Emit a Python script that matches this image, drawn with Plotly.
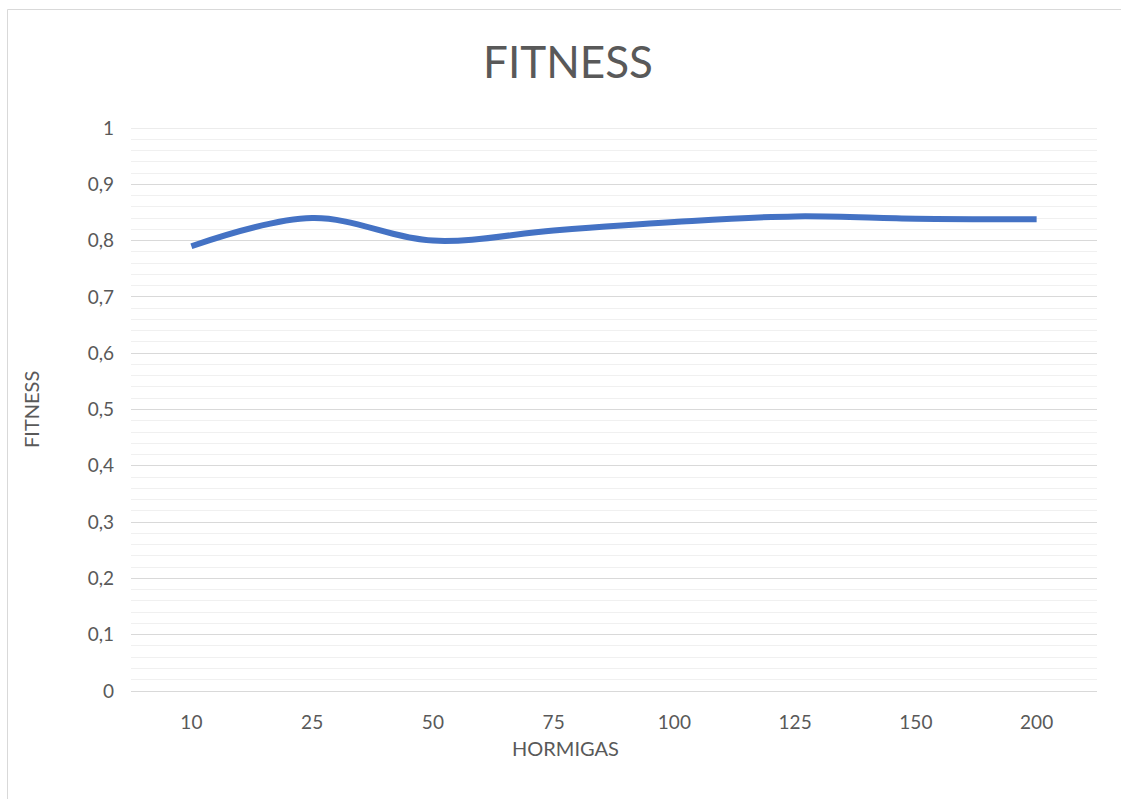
import plotly.graph_objects as go

# Number of ants per run and the resulting fitness
hormigas = ["10", "25", "50", "75", "100", "125", "150", "200"]
fitness = [0.79, 0.84, 0.80, 0.818, 0.833, 0.843, 0.839, 0.838]

TEXT = "#595959"
FONT = "Lato, 'Open Sans', sans-serif"

W, H = 1121, 799
L, R, T, B = 131, 1097, 128, 691

fig = go.Figure()
fig.add_trace(go.Scatter(
    x=hormigas,
    y=fitness,
    mode="lines",
    line=dict(color="#4472C4", width=6, shape="spline", smoothing=1.0),
    hoverinfo="x+y",
    showlegend=False,
))

def px_x(p):
    return (p - L) / (R - L)

def px_y(p):
    return (B - p) / (B - T)

fig.update_layout(
    width=W,
    height=H,
    margin=dict(l=L, r=W - R, t=T, b=H - B),
    paper_bgcolor="white",
    plot_bgcolor="white",
    separators=",.",
    font=dict(family=FONT, color=TEXT, size=19),
    title=dict(
        text="FITNESS",
        x=568 / W,
        xanchor="center",
        y=1 - 63 / H,
        yanchor="middle",
        font=dict(family=FONT, size=44, color=TEXT),
    ),
    xaxis=dict(
        type="category",
        range=[-0.5, 7.5],
        showgrid=False,
        zeroline=False,
        showline=True,
        linecolor="#D9D9D9",
        linewidth=1,
        ticks="",
        ticklabelstandoff=14,
        tickfont=dict(family=FONT, size=19, color=TEXT),
    ),
    yaxis=dict(
        range=[0, 1],
        dtick=0.1,
        tick0=0,
        showgrid=True,
        gridcolor="#D9D9D9",
        gridwidth=1,
        zeroline=False,
        showline=False,
        ticks="",
        ticklabelstandoff=16,
        tickfont=dict(family=FONT, size=19, color=TEXT),
        minor=dict(dtick=0.02, tick0=0, showgrid=True, gridcolor="#F0F0F0", gridwidth=1),
    ),
    annotations=[
        dict(text="HORMIGAS", xref="paper", yref="paper",
             x=px_x(565), y=px_y(748), xanchor="center", yanchor="middle",
             showarrow=False, font=dict(family=FONT, size=20, color=TEXT)),
        dict(text="FITNESS", xref="paper", yref="paper", textangle=-90,
             x=px_x(31), y=px_y(410), xanchor="center", yanchor="middle",
             showarrow=False, font=dict(family=FONT, size=20, color=TEXT)),
    ],
    shapes=[
        # outer chart frame
        dict(type="rect", xref="paper", yref="paper",
             x0=px_x(7.5), x1=px_x(1135), y0=px_y(812), y1=px_y(9.5),
             line=dict(color="#D9D9D9", width=1), fillcolor="rgba(0,0,0,0)",
             layer="below"),
        # top major gridline at the edge of the value range
        dict(type="line", xref="paper", yref="y", x0=0, x1=1, y0=1, y1=1,
             line=dict(color="#D9D9D9", width=1), layer="below"),
    ],
)

fig.write_html("out.html")
